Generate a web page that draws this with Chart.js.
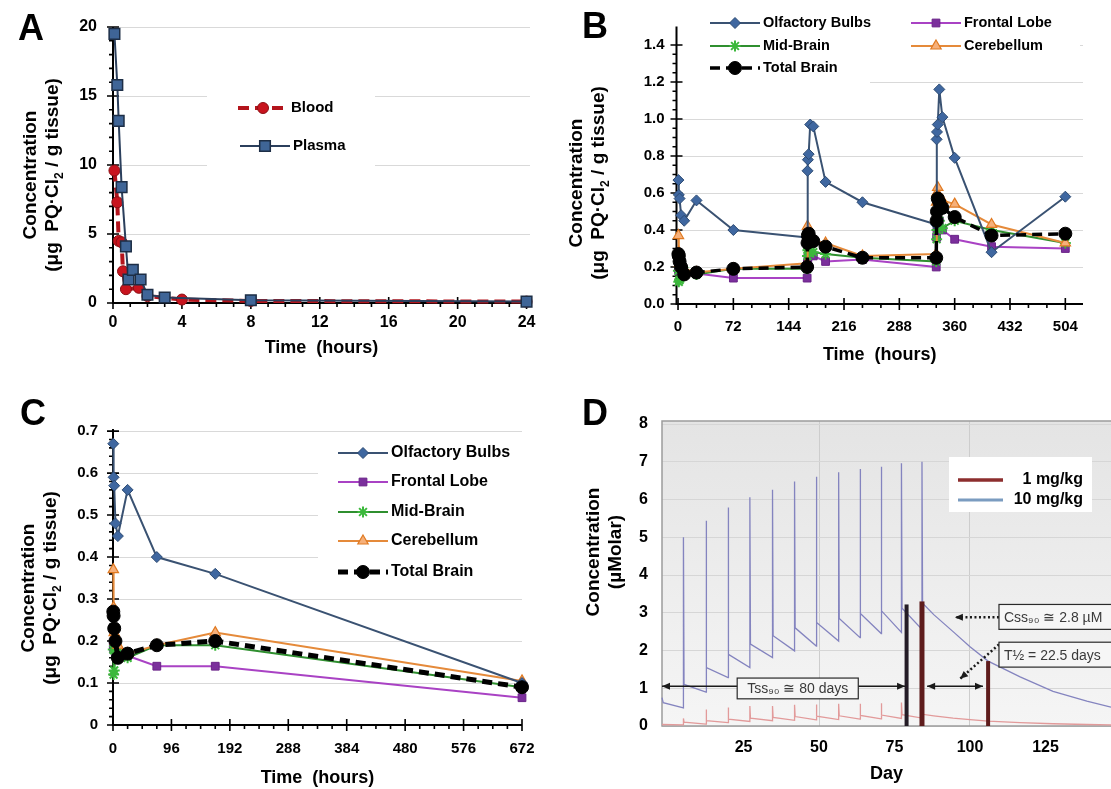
<!DOCTYPE html>
<html>
<head>
<meta charset="utf-8">
<title>Paraquat concentration time courses</title>
<script src="https://cdn.jsdelivr.net/npm/chart.js@4.4.1/dist/chart.umd.min.js"></script>
<style>
  body { margin: 0; width: 1111px; height: 789px; background: #fff; position: relative; overflow: hidden; }
  canvas { position: absolute; }
  .letter { position: absolute; font: bold 36px 'Liberation Sans', Arial, sans-serif; line-height: 36px; }
  .ytitle { position: absolute; width: 320px; height: 44px; text-align: center; white-space: pre;
            font: bold 19px 'Liberation Sans', Arial, sans-serif; line-height: 22px; transform: rotate(-90deg); }
  .ytitle sub { font-size: 12px; line-height: 0; }
</style>
</head>
<body>
<canvas id="chartA" width="560" height="375" style="left:0;top:0"></canvas>
<canvas id="chartB" width="551" height="375" style="left:560px;top:0"></canvas>
<canvas id="chartC" width="560" height="399" style="left:0;top:390px"></canvas>
<canvas id="chartD" width="551" height="399" style="left:560px;top:390px"></canvas>

<div class="letter" style="left:18px;top:10px">A</div>
<div class="letter" style="left:582px;top:8px">B</div>
<div class="letter" style="left:20px;top:395px">C</div>
<div class="letter" style="left:582px;top:395px">D</div>

<div class="ytitle" style="left:-119px;top:153px">Concentration
(μg  PQ·Cl<sub>2</sub> / g tissue)</div>
<div class="ytitle" style="left:427px;top:161px">Concentration
(μg  PQ·Cl<sub>2</sub> / g tissue)</div>
<div class="ytitle" style="left:-121px;top:566px">Concentration
(μg  PQ·Cl<sub>2</sub> / g tissue)</div>
<div class="ytitle" style="left:444px;top:530px">Concentration
(µMolar)</div>

<script>
// ---- A: blood / plasma, first 24 h ----
const timeBlood = [0.083, 0.25, 0.33, 0.5, 0.58, 0.75, 1.5, 2, 4, 8, 24];
const blood = [9.6, 7.3, 4.5, 4.4, 2.3, 1.0, 1.1, 0.5, 0.25, 0.15, 0.1];
const timePlasma = [0.083, 0.25, 0.33, 0.5, 0.75, 0.9, 1.15, 1.6, 2, 3, 8, 24];
const plasma = [19.5, 15.8, 13.2, 8.4, 4.1, 1.7, 2.4, 1.7, 0.6, 0.4, 0.2, 0.1];
const ticksAx = [0, 4, 8, 12, 16, 20, 24];
const ticksAy = [0, 5, 10, 15, 20];

// ---- B: three weekly doses (h) ----
const timeB = [0.5, 1, 2, 4, 8, 24, 72, 168, 168.5, 169, 170, 172, 176, 192, 240, 336,
               336.5, 337, 338, 340, 344, 360, 408, 504];
const olfactoryB = [0.67, 0.59, 0.57, 0.48, 0.45, 0.56, 0.40, 0.36, 0.72, 0.78, 0.81, 0.97, 0.96,
                    0.66, 0.55, 0.43, 0.89, 0.93, 0.97, 1.16, 1.01, 0.79, 0.28, 0.58];
const frontalB = [0.19, 0.18, 0.20, 0.17, 0.17, 0.165, 0.14, 0.14, 0.22, 0.25, 0.27, 0.28, 0.26,
                  0.23, 0.24, 0.20, 0.36, 0.40, 0.42, 0.45, 0.40, 0.35, 0.31, 0.30];
const midBrainB = [0.18, 0.12, 0.13, 0.17, 0.18, 0.16, 0.19, 0.19, 0.26, 0.29, 0.30, 0.31, 0.28,
                   0.27, 0.25, 0.23, 0.35, 0.40, 0.43, 0.45, 0.41, 0.45, 0.40, 0.33];
const cerebellumB = [0.37, 0.28, 0.22, 0.20, 0.19, 0.17, 0.19, 0.22, 0.42, 0.38, 0.36, 0.36, 0.34,
                     0.33, 0.26, 0.27, 0.55, 0.60, 0.63, 0.58, 0.56, 0.54, 0.43, 0.33];
const totalB = [0.27, 0.26, 0.23, 0.20, 0.16, 0.17, 0.19, 0.20, 0.33, 0.37, 0.38, 0.35, 0.34,
                0.31, 0.25, 0.25, 0.45, 0.50, 0.57, 0.55, 0.52, 0.47, 0.37, 0.38];
const ticksBx = [0, 72, 144, 216, 288, 360, 432, 504];
const ticksBy = [0, 0.2, 0.4, 0.6, 0.8, 1.0, 1.2, 1.4];

// ---- C: single dose, four weeks (h) ----
const timeC = [0.5, 1, 2, 4, 8, 24, 72, 168, 672];
const olfactoryC = [0.67, 0.59, 0.57, 0.48, 0.45, 0.56, 0.40, 0.36, 0.10];
const frontalC = [0.19, 0.18, 0.20, 0.17, 0.17, 0.165, 0.14, 0.14, 0.065];
const midBrainC = [0.18, 0.12, 0.13, 0.17, 0.18, 0.16, 0.19, 0.19, 0.09];
const cerebellumC = [0.37, 0.28, 0.22, 0.20, 0.19, 0.17, 0.19, 0.22, 0.105];
const totalC = [0.27, 0.26, 0.23, 0.20, 0.16, 0.17, 0.19, 0.20, 0.09];
const ticksCx = [0, 96, 192, 288, 384, 480, 576, 672];
const ticksCy = [0, 0.1, 0.2, 0.3, 0.4, 0.5, 0.6, 0.7];

// ---- D: simulated weekly dosing (days) ----
const doseDays = [5.1, 12.6, 19.9, 27.1, 34.6, 41.9, 49.1, 56.5, 63.6, 70.6, 77.3, 84.1];
const hiStartDays = [-2, -1.6];
const hiStart = [0.75, 0.62];
const hiTrough = [0.48, 0.90, 1.28, 1.55, 1.81, 1.99, 2.12, 2.25, 2.34, 2.45, 2.48, 2.56];
const hiPeak = [5.00, 5.44, 5.79, 6.06, 6.26, 6.48, 6.60, 6.72, 6.81, 6.87, 6.96, 7.00];
const hiPost = [1.10, 1.55, 1.90, 2.17, 2.39, 2.60, 2.74, 2.85, 2.98, 3.05, 3.12, 3.25];
const washDays = [88, 94.4, 100, 106, 116.6, 127.5, 138.7, 146.7];
const hiWash = [2.95, 2.50, 2.10, 1.72, 1.30, 0.92, 0.66, 0.50];
const loStartDays = [-2];
const loStart = [0.04];
const loTrough = [0.03, 0.05, 0.09, 0.12, 0.14, 0.15, 0.16, 0.17, 0.18, 0.19, 0.20, 0.21];
const loPeak = [0.20, 0.44, 0.49, 0.53, 0.53, 0.56, 0.57, 0.59, 0.59, 0.60, 0.62, 0.63];
const loPost = [0.10, 0.14, 0.18, 0.21, 0.23, 0.25, 0.26, 0.27, 0.28, 0.29, 0.30, 0.31];
const loWash = [0.27, 0.21, 0.17, 0.13, 0.09, 0.06, 0.04, 0.03];
const markDays = [79.0, 84.1, 106.0];
const markTops = [3.22, 3.30, 1.72];
const ticksDx = [25, 50, 75, 100, 125];
const ticksDy = [0, 1, 2, 3, 4, 5, 6, 7, 8];

const FONT = "'Liberation Sans', Arial, sans-serif";
Chart.defaults.font.family = FONT;
Chart.defaults.color = '#000';

const xy = (xs, ys) => xs.map((x, i) => ({ x, y: ys[i] }));
const fixTicks = list => s => { s.ticks = list.map(v => ({ value: v })); };

function doseCurve(startD, startV, trough, peak, post, wash) {
  const pts = xy(startD, startV);
  doseDays.forEach((d, i) => {
    pts.push({ x: d, y: trough[i] }, { x: d, y: peak[i] }, { x: d + 0.2, y: post[i] });
  });
  return pts.concat(xy(washDays, wash));
}

// black axes with crossing major ticks and outer minor ticks
function axisFrame(cfg) {
  return {
    id: 'axisFrame',
    beforeDatasetsDraw(chart) {
      const { ctx, chartArea: a, scales: { x, y } } = chart;
      const isMajor = (list, v) => list.some(m => Math.abs(m - v) < 1e-6);
      ctx.save();
      ctx.strokeStyle = '#000';
      ctx.lineWidth = 2;
      ctx.beginPath();
      ctx.moveTo(a.left, a.top);
      ctx.lineTo(a.left, a.bottom);
      ctx.lineTo(a.right, a.bottom);
      ctx.stroke();
      ctx.lineWidth = 1.6;
      ctx.beginPath();
      const nx = Math.round(cfg.xTo / cfg.xStep);
      for (let i = 0; i <= nx; i++) {
        const v = i * cfg.xStep, px = x.getPixelForValue(v), big = isMajor(cfg.xMajor, v);
        ctx.moveTo(px, a.bottom - (big ? 6 : 0));
        ctx.lineTo(px, a.bottom + (big ? 6 : 4));
      }
      const ny = Math.round(cfg.yTo / cfg.yStep);
      for (let i = 0; i <= ny; i++) {
        const v = i * cfg.yStep, py = y.getPixelForValue(v), big = isMajor(cfg.yMajor, v);
        ctx.moveTo(a.left - (big ? 6 : 4), py);
        ctx.lineTo(a.left + (big ? 6 : 0), py);
      }
      ctx.stroke();
      ctx.restore();
    }
  };
}

// legend drawn inside the plot, from the datasets' own styles
function keyBox(cfg) {
  return {
    id: 'keyBox',
    beforeDatasetsDraw(chart) {
      const ctx = chart.ctx;
      ctx.save();
      ctx.fillStyle = '#fff';
      cfg.boxes.forEach(b => ctx.fillRect(b[0], b[1], b[2], b[3]));
      ctx.restore();
    },
    afterDatasetsDraw(chart) {
      const ctx = chart.ctx;
      ctx.save();
      ctx.font = cfg.font;
      ctx.textBaseline = 'middle';
      cfg.items.forEach(it => {
        const ds = chart.data.datasets[it.ds];
        ctx.strokeStyle = ds.borderColor;
        ctx.lineWidth = ds.borderWidth;
        ctx.setLineDash(ds.borderDash || []);
        ctx.beginPath();
        ctx.moveTo(it.x, it.y);
        ctx.lineTo(it.x + cfg.len, it.y);
        ctx.stroke();
        ctx.setLineDash([]);
        ctx.fillStyle = ds.pointBackgroundColor;
        ctx.strokeStyle = ds.pointBorderColor;
        ctx.lineWidth = ds.pointBorderWidth;
        Chart.helpers.drawPoint(ctx, { pointStyle: ds.pointStyle, rotation: 0, radius: ds.pointRadius,
          borderWidth: ds.pointBorderWidth }, it.x + cfg.len / 2, it.y);
        ctx.fillStyle = '#000';
        ctx.fillText(ds.label, it.x + cfg.len + 3, it.y);
      });
      ctx.restore();
    }
  };
}

const brainLabels = ['Olfactory Bulbs', 'Frontal Lobe', 'Mid-Brain', 'Cerebellum', 'Total Brain'];
function brainSets(times, series, dashW) {
  const looks = [
    { borderColor: '#3a5272', borderWidth: 2, pointStyle: 'rectRot', pointRadius: 5.5,
      pointBackgroundColor: '#3f67a0', pointBorderColor: '#2c4a72', pointBorderWidth: 1, order: 1 },
    { borderColor: '#a942c4', borderWidth: 2, pointStyle: 'rect', pointRadius: 5.5,
      pointBackgroundColor: '#7b2f9c', pointBorderColor: '#6a2488', pointBorderWidth: 1, order: 4 },
    { borderColor: '#2f8f2f', borderWidth: 2, pointStyle: 'star', pointRadius: 5.5,
      pointBackgroundColor: '#3fbf3f', pointBorderColor: '#3cb83c', pointBorderWidth: 2, order: 3 },
    { borderColor: '#e58a3a', borderWidth: 2, pointStyle: 'triangle', pointRadius: 6,
      pointBackgroundColor: '#f6b07a', pointBorderColor: '#e07a22', pointBorderWidth: 1.2, order: 2 },
    { borderColor: '#000', borderWidth: dashW, borderDash: [10, 6], pointStyle: 'circle', pointRadius: 6.5,
      pointBackgroundColor: '#000', pointBorderColor: '#000', pointBorderWidth: 1, order: 0 }
  ];
  return series.map((vals, i) => Object.assign({
    label: brainLabels[i], data: xy(times, vals), showLine: true, clip: false
  }, looks[i]));
}

function axes(o) {
  return {
    x: {
      type: 'linear', min: o.xMin, max: o.xMax,
      afterBuildTicks: fixTicks(o.xTicks), afterFit: s => { s.height = o.xH; },
      grid: { display: false, drawTicks: false }, border: { display: false },
      ticks: { padding: o.xPad, autoSkip: false, maxRotation: 0, font: { size: o.tickSize, weight: 'bold' } },
      title: { display: true, text: 'Time  (hours)', font: { size: 18, weight: 'bold' },
               padding: { top: 0, bottom: o.titlePad } }
    },
    y: {
      min: 0, max: o.yMax,
      afterBuildTicks: fixTicks(o.yTicks), afterFit: s => { s.width = o.yW; },
      grid: { color: '#d9d9d9', drawTicks: false }, border: { display: false },
      ticks: { padding: o.yPad, font: { size: o.tickSize, weight: 'bold' }, callback: o.yFmt }
    }
  };
}

// ---- Panel A ----
new Chart(document.getElementById('chartA'), {
  type: 'scatter',
  data: {
    datasets: [
      { label: 'Blood', data: xy(timeBlood, blood), showLine: true, clip: false, order: 1,
        borderColor: '#b3141c', borderWidth: 4, borderDash: [11, 6],
        pointStyle: 'circle', pointRadius: 5.5, pointBackgroundColor: '#c8141e',
        pointBorderColor: '#8c0f14', pointBorderWidth: 1 },
      { label: 'Plasma', data: xy(timePlasma, plasma), showLine: true, clip: false, order: 0,
        borderColor: '#2b3f5c', borderWidth: 2,
        pointStyle: 'rect', pointRadius: 7.5, pointBackgroundColor: '#3f6597',
        pointBorderColor: '#1d2e46', pointBorderWidth: 1.5 }
    ]
  },
  options: {
    responsive: false, animation: false,
    layout: { padding: { left: 0, top: 27, right: 30, bottom: 0 } },
    plugins: { legend: { display: false }, tooltip: { enabled: false } },
    scales: axes({ xMin: 0, xMax: 24.2, xTicks: ticksAx, xH: 72, xPad: 10, titlePad: 16,
                   yMax: 20, yTicks: ticksAy, yW: 113, yPad: 16, tickSize: 16, yFmt: v => v })
  },
  plugins: [
    keyBox({ boxes: [[207, 80, 168, 92]], font: 'bold 15px ' + FONT, len: 50,
             items: [{ ds: 0, x: 238, y: 108 }, { ds: 1, x: 240, y: 146 }] }),
    axisFrame({ xMajor: ticksAx, xStep: 1, xTo: 24, yMajor: ticksAy, yStep: 1, yTo: 20 })
  ]
});

// ---- Panel B ----
new Chart(document.getElementById('chartB'), {
  type: 'scatter',
  data: { datasets: brainSets(timeB, [olfactoryB, frontalB, midBrainB, cerebellumB, totalB], 3.5) },
  options: {
    responsive: false, animation: false,
    layout: { padding: { left: 0, top: 26.5, right: 28, bottom: 0 } },
    plugins: { legend: { display: false }, tooltip: { enabled: false } },
    scales: axes({ xMin: -2, xMax: 527, xTicks: ticksBx, xH: 71, xPad: 14, titlePad: 9,
                   yMax: 1.5, yTicks: ticksBy, yW: 116.5, yPad: 12, tickSize: 15,
                   yFmt: v => Number(v).toFixed(1) })
  },
  plugins: [
    keyBox({ boxes: [[120, 6, 400, 52], [120, 58, 190, 27]], font: 'bold 14.5px ' + FONT, len: 50,
             items: [{ ds: 0, x: 150, y: 23 }, { ds: 2, x: 150, y: 46 }, { ds: 4, x: 150, y: 68 },
                     { ds: 1, x: 351, y: 23 }, { ds: 3, x: 351, y: 46 }] }),
    axisFrame({ xMajor: ticksBx, xStep: 24, xTo: 504, yMajor: ticksBy, yStep: 0.05, yTo: 1.4 })
  ]
});

// ---- Panel C ----
new Chart(document.getElementById('chartC'), {
  type: 'scatter',
  data: { datasets: brainSets(timeC, [olfactoryC, frontalC, midBrainC, cerebellumC, totalC], 5) },
  options: {
    responsive: false, animation: false,
    layout: { padding: { left: 0, top: 39, right: 38, bottom: 0 } },
    plugins: { legend: { display: false }, tooltip: { enabled: false } },
    scales: axes({ xMin: 0, xMax: 672, xTicks: ticksCx, xH: 64, xPad: 15, titlePad: 0,
                   yMax: 0.705, yTicks: ticksCy, yW: 113, yPad: 15, tickSize: 15,
                   yFmt: v => v === 0 ? '0' : Number(v).toFixed(1) })
  },
  plugins: [
    keyBox({ boxes: [[318, 50, 215, 145]], font: 'bold 16px ' + FONT, len: 50,
             items: [{ ds: 0, x: 338, y: 63 }, { ds: 1, x: 338, y: 92 }, { ds: 2, x: 338, y: 122 },
                     { ds: 3, x: 338, y: 151 }, { ds: 4, x: 338, y: 182 }] }),
    axisFrame({ xMajor: ticksCx, xStep: 24, xTo: 672, yMajor: ticksCy, yStep: 0.02, yTo: 0.7 })
  ]
});

// ---- Panel D ----
const noteArrows = [
  { from: [-2, 1.05], to: [78.5, 1.05], both: true },
  { from: [85.8, 1.05], to: [104.3, 1.05], both: true },
  { from: [109.6, 2.88], to: [95.0, 2.88], dotted: true },
  { from: [109.6, 2.16], to: [96.7, 1.25], dotted: true }
];
const noteBoxes = [
  { x0: 22.9, x1: 63.0, y0: 0.72, y1: 1.27, text: 'Tss₉₀ ≅ 80 days', center: true },
  { x0: 109.6, x1: 160, y0: 2.56, y1: 3.22, text: 'Css₉₀ ≅ 2.8 µM' },
  { x0: 109.6, x1: 160, y0: 1.56, y1: 2.22, text: 'T½ = 22.5 days' }
];

function arrowHead(ctx, xf, yf, xt, yt) {
  const ang = Math.atan2(yt - yf, xt - xf), L = 8, W = 3.5;
  ctx.beginPath();
  ctx.moveTo(xt, yt);
  ctx.lineTo(xt - L * Math.cos(ang) + W * Math.sin(ang), yt - L * Math.sin(ang) - W * Math.cos(ang));
  ctx.lineTo(xt - L * Math.cos(ang) - W * Math.sin(ang), yt - L * Math.sin(ang) + W * Math.cos(ang));
  ctx.closePath();
  ctx.fill();
}

const panelD = {
  id: 'panelD',
  beforeDraw(chart) {
    const { ctx, chartArea: a } = chart;
    const g = ctx.createLinearGradient(0, a.top, 0, a.bottom);
    g.addColorStop(0, '#e4e4e4');
    g.addColorStop(1, '#f5f5f5');
    ctx.save();
    ctx.fillStyle = g;
    ctx.fillRect(a.left, a.top, a.right - a.left, a.bottom - a.top);
    ctx.restore();
  },
  beforeDatasetsDraw(chart) {
    const { ctx, chartArea: a } = chart;
    ctx.save();
    ctx.strokeStyle = '#9c9c9c';
    ctx.lineWidth = 1.5;
    ctx.beginPath();
    ctx.moveTo(a.right, a.top);
    ctx.lineTo(a.left, a.top);
    ctx.lineTo(a.left, a.bottom);
    ctx.lineTo(a.right, a.bottom);
    ctx.stroke();
    ctx.restore();
  },
  afterDatasetsDraw(chart) {
    const { ctx, scales: { x, y } } = chart;
    ctx.save();
    ctx.fillStyle = '#1a1a1a';
    ctx.strokeStyle = '#1a1a1a';
    noteArrows.forEach(n => {
      const x0 = x.getPixelForValue(n.from[0]), y0 = y.getPixelForValue(n.from[1]);
      const x1 = x.getPixelForValue(n.to[0]), y1 = y.getPixelForValue(n.to[1]);
      ctx.lineWidth = n.dotted ? 2.5 : 1.5;
      ctx.setLineDash(n.dotted ? [2, 2.5] : []);
      ctx.beginPath();
      ctx.moveTo(x0, y0);
      ctx.lineTo(x1, y1);
      ctx.stroke();
      ctx.setLineDash([]);
      arrowHead(ctx, x0, y0, x1, y1);
      if (n.both) arrowHead(ctx, x1, y1, x0, y0);
    });
    ctx.font = '14px ' + FONT;
    ctx.textBaseline = 'middle';
    noteBoxes.forEach(b => {
      const l = x.getPixelForValue(b.x0), r = x.getPixelForValue(b.x1);
      const t = y.getPixelForValue(b.y1), btm = y.getPixelForValue(b.y0);
      ctx.fillStyle = '#f6f6f6';
      ctx.fillRect(l, t, r - l, btm - t);
      ctx.strokeStyle = '#2a2a2a';
      ctx.lineWidth = 1.2;
      ctx.strokeRect(l, t, r - l, btm - t);
      ctx.fillStyle = '#3a3a3a';
      ctx.textAlign = b.center ? 'center' : 'left';
      ctx.fillText(b.text, b.center ? (l + r) / 2 : l + 5, (t + btm) / 2 + 1);
    });
    // legend
    ctx.fillStyle = '#fff';
    ctx.fillRect(389, 67, 143, 55);
    ctx.lineWidth = 3.5;
    ctx.strokeStyle = '#8c2e2e';
    ctx.beginPath(); ctx.moveTo(398, 90); ctx.lineTo(443, 90); ctx.stroke();
    ctx.lineWidth = 3;
    ctx.strokeStyle = '#7b9cc0';
    ctx.beginPath(); ctx.moveTo(398, 110); ctx.lineTo(443, 110); ctx.stroke();
    ctx.font = 'bold 16px ' + FONT;
    ctx.fillStyle = '#000';
    ctx.textAlign = 'right';
    ctx.fillText(chart.data.datasets[0].label, 523, 90);
    ctx.fillText(chart.data.datasets[1].label, 523, 110);
    ctx.restore();
  }
};

const markColors = ['#241c26', '#5e1c1c', '#5e1c1c'];
const markWidths = [4, 5, 4];

new Chart(document.getElementById('chartD'), {
  type: 'scatter',
  data: {
    datasets: [
      { label: '1 mg/kg', data: doseCurve(loStartDays, loStart, loTrough, loPeak, loPost, loWash),
        showLine: true, borderColor: '#e29a9a', borderWidth: 1.3, pointRadius: 0, clip: false, order: 3 },
      { label: '10 mg/kg', data: doseCurve(hiStartDays, hiStart, hiTrough, hiPeak, hiPost, hiWash),
        showLine: true, borderColor: '#8484bf', borderWidth: 1.3, pointRadius: 0, clip: false, order: 2 }
    ].concat(markDays.map((d, i) => ({
      label: 'mark' + i, data: [{ x: d, y: 0 }, { x: d, y: markTops[i] }], showLine: true,
      borderColor: markColors[i], borderWidth: markWidths[i], pointRadius: 0, clip: false, order: 0
    })))
  },
  options: {
    responsive: false, animation: false,
    layout: { padding: { left: 0, top: 31, right: 0, bottom: 0 } },
    plugins: { legend: { display: false }, tooltip: { enabled: false } },
    scales: {
      x: {
        type: 'linear', min: -2, max: 146.7,
        afterBuildTicks: fixTicks(ticksDx), afterFit: s => { s.height = 63; },
        grid: { drawTicks: false, color: c => (c.tick && c.tick.value % 50 === 0) ? '#cdcdcd' : 'rgba(0,0,0,0)' },
        border: { display: false },
        ticks: { padding: 12, autoSkip: false, maxRotation: 0, font: { size: 16, weight: 'bold' } },
        title: { display: true, text: 'Day', font: { size: 18, weight: 'bold' }, padding: { top: 0, bottom: 4 } }
      },
      y: {
        min: 0, max: 8.08,
        afterBuildTicks: fixTicks(ticksDy), afterFit: s => { s.width = 102; },
        grid: { drawTicks: false, color: '#d6d6d6' }, border: { display: false },
        ticks: { padding: 14, font: { size: 16, weight: 'bold' } }
      }
    }
  },
  plugins: [panelD]
});
</script>
</body>
</html>
